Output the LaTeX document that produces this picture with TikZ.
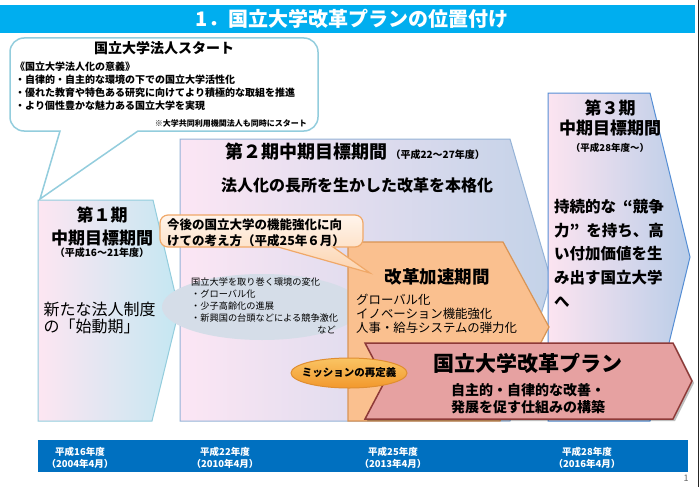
\documentclass[tikz,border=0pt]{standalone}
\usepackage{fontspec}
\setmainfont{Noto Sans CJK JP}
\newcommand\jfs[2]{\fontsize{#1}{#2}\selectfont}
\definecolor{titlebar}{HTML}{00AEEF}
\definecolor{cOneBorder}{HTML}{93CDDD}
\definecolor{pOneL}{HTML}{FDE6F2}
\definecolor{pOneR}{HTML}{C4E7F2}
\definecolor{pTwoL}{HTML}{FCE6F4}
\definecolor{pTwoR}{HTML}{C3D2E8}
\definecolor{pTwoBorder}{HTML}{95B3D7}
\definecolor{pThreeL}{HTML}{FCE4F0}
\definecolor{pThreeR}{HTML}{B9CDE8}
\definecolor{pThreeBorder}{HTML}{558ED5}
\definecolor{envfill}{HTML}{D5DDE8}
\definecolor{orfill}{HTML}{FAC08F}
\definecolor{orborder}{HTML}{D99454}
\definecolor{cTwoTop}{HTML}{FFF5EC}
\definecolor{cTwoBot}{HTML}{FCD3AE}
\definecolor{cTwoBorder}{HTML}{F0A868}
\definecolor{redfill}{HTML}{E6A1A1}
\definecolor{redborder}{HTML}{8E3A38}
\definecolor{misTop}{HTML}{FAC463}
\definecolor{misBot}{HTML}{F2982C}
\definecolor{misBorder}{HTML}{E08E30}
\definecolor{timeline}{HTML}{0070C0}
\tikzset{
  boldtxt/.style={font=\bfseries},
  tltxt/.style={text=white, align=center, font=\bfseries\jfs{9.5}{12.5}},
}
\begin{document}
\begin{tikzpicture}[x=1pt,y=-1pt]
\useasboundingbox (0,0) rectangle (700,487);
\fill[white] (0,0) rectangle (700,487);
% title bar
\fill[titlebar] (0,5) rectangle (695,33);
\node[text=white, font=\bfseries\jfs{20}{24}] (title) at (352,19) {1．国立大学改革プランの位置付け};
\draw[black!85, line width=1] (698.5,0) -- (698.5,487);

% callout 1
\draw[cOneBorder, line width=1.5, fill=white]
  (24,38) -- (304,38) .. controls (311.7,38) and (318,44.3) .. (318,52)
  -- (318,117) .. controls (318,124.7) and (311.7,131) .. (304,131)
  -- (138,131) -- (40,199) -- (60,131)
  -- (24,131) .. controls (16.3,131) and (10,124.7) .. (10,117)
  -- (10,52) .. controls (10,44.3) and (16.3,38) .. (24,38) -- cycle;
\node[font=\bfseries\jfs{14}{16}] (cOneTitle) at (164,48) {国立大学法人スタート};
\node[anchor=north west, align=left, inner sep=0, font=\bfseries\jfs{10}{12.8}] (cOneBody) at (15,62)
  {《国立大学法人化の意義》\\・自律的・自主的な環境の下での国立大学活性化\\・優れた教育や特色ある研究に向けてより積極的な取組を推進\\・より個性豊かな魅力ある国立大学を実現};
\node[anchor=east, inner sep=0, font=\bfseries\jfs{8}{10}] (cOneNote) at (307,123) {※大学共同利用機関法人も同時にスタート};

% phase 1
\path[draw=cOneBorder, line width=1, left color=pOneL, right color=pOneR]
  (38,200) -- (153,200) -- (179,310) -- (152,421) -- (38,421) -- cycle;
% phase 2
\path[draw=pTwoBorder, line width=1, left color=pTwoL, right color=pTwoR]
  (180,139) -- (510,139) -- (551,280) -- (510,421) -- (180,421) -- cycle;
% phase 3
\path[draw=pThreeBorder, line width=1, left color=pThreeL, middle color=white, right color=pThreeR]
  (548,93) -- (650,93) -- (690,257) -- (650,421) -- (548,421) -- cycle;

\node[font=\bfseries\jfs{17}{23}, align=center] (pOneTitle) at (102,226) {第１期\\中期目標期間};
\node[font=\bfseries\jfs{10}{12}] (pOneYears) at (102,253) {（平成16～21年度）};
\node[anchor=west, align=left, font=\jfs{16}{17}] (pOneBody) at (40,318) {新たな法人制度\\の「始動期」};

\node[anchor=west, font=\bfseries\jfs{18}{20}] (pTwoTitle) at (222,152) {第２期中期目標期間\,{\jfs{10}{12}（平成22～27年度）}};
\node[font=\bfseries\jfs{16}{18}] (pTwoSub) at (357,185) {法人化の長所を生かした改革を本格化};

\node[font=\bfseries\jfs{17}{20}, align=center] (pThreeTitle) at (610,118) {第３期\\中期目標期間};
\node[font=\bfseries\jfs{9.5}{11}] (pThreeYears) at (610,148) {（平成28年度～）};
\node[anchor=north west, align=left, inner sep=0, font=\bfseries\jfs{15.5}{23.7}] (pThreeBody) at (554,199)
  {持続的な\hspace{0.45em}“競争\\力”\hspace{0.45em}を持ち、高\\い付加価値を生\\み出す国立大学\\へ};

% environment ellipse
\fill[envfill] (262,307) ellipse [x radius=100pt, y radius=33pt];
\node[anchor=north west, align=left, inner sep=0, font=\jfs{9.2}{12}] (envText) at (191,278)
  {国立大学を取り巻く環境の変化\\・グローバル化\\・少子高齢化の進展\\・新興国の台頭などによる競争激化};
\node[anchor=east, inner sep=0, font=\jfs{9.2}{12}] (envEtc) at (336,330) {など};

% orange acceleration box
\draw[orborder, line width=1.2, fill=orfill]
  (348,242) -- (503,242) -- (549,327) -- (500,421) -- (348,421) -- cycle;
\node[font=\bfseries\jfs{17.5}{20}] (orTitle) at (437,277) {改革加速期間};
\node[anchor=north west, align=left, inner sep=0, font=\jfs{12.4}{14}] (orBody) at (356,293.5)
  {グローバル化\\イノベーション機能強化\\人事・給与システムの弾力化};

% red plan box
\fill[black, opacity=0.25, xshift=2pt, yshift=-2pt]
  (365,343) -- (673,343) -- (692,381) -- (673,419) -- (365,419) -- (385,381) -- cycle;
\draw[redborder, line width=1.5, fill=redfill]
  (365,343) -- (673,343) -- (692,381) -- (673,419) -- (365,419) -- (385,381) -- cycle;
\node[font=\bfseries\jfs{21}{24}] (planTitle) at (528,363) {国立大学改革プラン};
\node[font=\bfseries\jfs{14}{17}, align=center] (planBody) at (528,398.5) {自主的・自律的な改善・\\発展を促す仕組みの構築};

% mission ellipse
\path[draw=misBorder, line width=1, top color=misTop, bottom color=misBot]
  (349,373) ellipse [x radius=58pt, y radius=15pt];
\node[font=\bfseries\jfs{10.5}{12}] (mission) at (349,373) {ミッションの再定義};

% callout 2
\path[draw=cTwoBorder, line width=1.2, top color=cTwoTop, bottom color=cTwoBot]
  (168,215) -- (355,215) .. controls (359.4,215) and (363,218.6) .. (363,223)
  -- (363,239) .. controls (363,243.4) and (359.4,247) .. (355,247)
  -- (333,247) -- (370,273) -- (278,247)
  -- (168,247) .. controls (163.6,247) and (160,243.4) .. (160,239)
  -- (160,223) .. controls (160,218.6) and (163.6,215) .. (168,215) -- cycle;
\node[anchor=north west, align=left, inner sep=0, font=\bfseries\jfs{12.5}{16}] (cTwoText) at (167,218.5)
  {今後の国立大学の機能強化に向\\けての考え方（平成25年６月）};

% timeline
\fill[timeline] (38,440) rectangle (688,472);
\node[tltxt] (tOne) at (80,458) {平成16年度\\（2004年4月）};
\node[tltxt] (tTwo) at (225,458) {平成22年度\\（2010年4月）};
\node[tltxt] (tThree) at (393,458) {平成25年度\\（2013年4月）};
\node[tltxt] (tFour) at (587,458) {平成28年度\\（2016年4月）};
\node[text=black!60, font=\jfs{9}{10}] (page) at (686,478) {1};
\end{tikzpicture}
\end{document}
